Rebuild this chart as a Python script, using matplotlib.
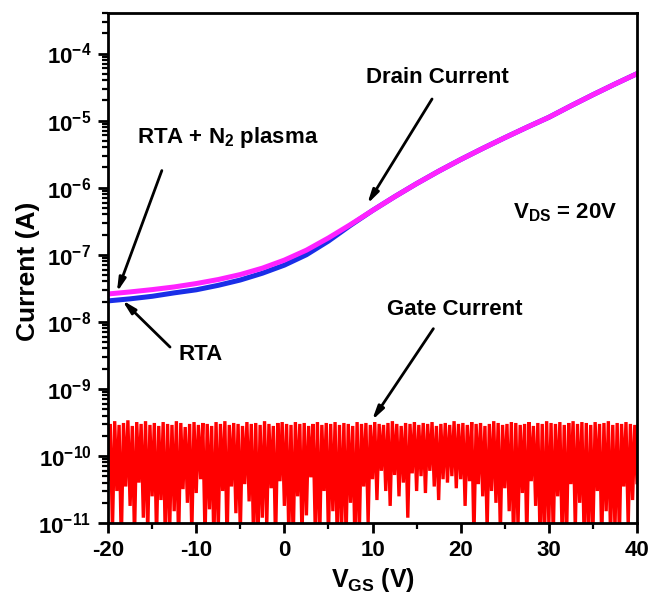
#!/usr/bin/env python3

import numpy as np
import matplotlib
matplotlib.use("Agg")
import matplotlib.pyplot as plt
from matplotlib.ticker import LogLocator, MultipleLocator, FixedLocator, NullFormatter

# drain current, every 2.5 V
vgs_drain = [-20, -17.5, -15, -12.5, -10, -7.5, -5, -2.5, 0, 2.5, 5, 7.5, 10,
             12.5, 15, 17.5, 20, 22.5, 25, 27.5, 30, 32.5, 35, 37.5, 40]
id_rta_n2 = [2.6e-8, 2.79e-8, 3.02e-8, 3.31e-8, 3.72e-8, 4.27e-8, 5.07e-8,
             6.31e-8, 8.32e-8, 1.17e-7, 1.78e-7, 2.82e-7, 4.57e-7, 7.33e-7,
             1.15e-6, 1.76e-6, 2.63e-6, 3.85e-6, 5.56e-6, 7.94e-6, 1.12e-5,
             1.66e-5, 2.43e-5, 3.51e-5, 5.01e-5]
id_rta = [2.05e-8, 2.2e-8, 2.4e-8, 2.7e-8, 3.0e-8, 3.5e-8, 4.2e-8, 5.3e-8,
          7.0e-8, 1.0e-7, 1.6e-7, 2.75e-7, 4.57e-7, 7.33e-7, 1.15e-6,
          1.76e-6, 2.63e-6, 3.85e-6, 5.56e-6, 7.94e-6, 1.12e-5, 1.66e-5,
          2.43e-5, 3.51e-5, 5.01e-5]

# gate current (units of 1e-10 A): dips at -20, -19.5, ... 40 and peaks in between
gate_dip = [
    0.45, 0.08, 0.30, 0.05, 0.35, 0.18, 0.06, 0.40, 0.12, 0.07,
    0.25, 0.06, 0.22, 0.05, 0.09, 0.15, 0.05, 0.32, 0.20, 0.07,
    0.28, 0.45, 0.06, 0.16, 0.05, 0.08, 0.30, 0.05, 0.35, 0.14,
    0.07, 0.38, 0.21, 0.06, 0.05, 0.12, 0.09, 0.33, 0.05, 0.42,
    0.18, 0.07, 0.05, 0.25, 0.06, 0.13, 0.48, 0.08, 0.05, 0.30,
    0.06, 0.15, 0.05, 0.09, 0.06, 0.20, 0.05, 0.07, 0.35, 0.10,
    0.45, 0.22, 0.60, 0.30, 0.18, 0.52, 0.25, 0.40, 0.12, 0.55,
    0.30, 0.50, 0.28, 0.60, 0.35, 0.22, 0.45, 0.40, 0.50, 0.33,
    0.45, 0.18, 0.42, 0.06, 0.38, 0.25, 0.08, 0.30, 0.20, 0.07,
    0.33, 0.15, 0.05, 0.09, 0.28, 0.06, 0.42, 0.18, 0.06, 0.05,
    0.10, 0.06, 0.25, 0.07, 0.05, 0.38, 0.08, 0.20, 0.06, 0.05,
    0.07, 0.30, 0.05, 0.15, 0.06, 0.08, 0.06, 0.35, 0.09, 0.22,
    0.40]
gate_peak = [
    3.0, 3.3, 2.9, 3.1, 3.4, 2.8, 3.2, 3.0, 3.3, 2.9,
    3.1, 2.8, 3.2, 3.0, 2.9, 3.3, 3.1, 2.7, 3.0, 3.2,
    2.9, 3.1, 3.0, 2.8, 3.2, 3.0, 3.3, 2.9, 3.1, 3.0,
    2.8, 3.2, 3.0, 3.1, 2.9, 3.3, 3.0, 2.8, 3.1, 3.2,
    3.0, 2.9, 3.2, 3.0, 3.1, 2.8, 3.0, 3.2, 2.9, 3.1,
    3.0, 3.2, 2.9, 3.1, 3.0, 2.8, 3.2, 3.0, 3.1, 2.9,
    3.2, 3.0, 2.9, 3.1, 3.3, 3.0, 2.8, 3.1, 3.0, 3.2,
    2.9, 3.1, 3.0, 3.2, 2.8, 3.0, 3.1, 2.9, 3.3, 3.0,
    3.1, 2.9, 3.2, 3.0, 3.1, 2.8, 3.0, 3.3, 3.1, 2.9,
    3.0, 3.2, 3.1, 2.9, 3.0, 3.2, 2.8, 3.1, 3.0, 3.3,
    3.1, 3.0, 3.2, 2.9, 3.1, 3.3, 3.0, 3.2, 3.1, 2.9,
    3.2, 3.0, 3.1, 3.3, 2.9, 3.1, 3.0, 3.2, 3.0, 2.9]

xticks = [-20, -10, 0, 10, 20, 30, 40]
ytick_exps = [-11, -10, -9, -8, -7, -6, -5, -4]


def _gate_series():
    v = np.arange(len(gate_dip) + len(gate_peak)) * 0.25 - 20
    i = np.empty(len(v))
    i[0::2] = np.array(gate_dip) * 1e-10
    i[1::2] = np.array(gate_peak) * 1e-10
    return v, i


def _main():
    plt.rcParams["font.family"] = ["Liberation Sans", "DejaVu Sans"]
    plt.rcParams["font.weight"] = "bold"
    plt.rcParams["mathtext.fontset"] = "custom"
    plt.rcParams["mathtext.rm"] = "Liberation Sans:bold"
    plt.rcParams["mathtext.bf"] = "Liberation Sans:bold"
    plt.rcParams["mathtext.default"] = "rm"

    fig = plt.figure(figsize=(6.51, 5.98), dpi=100)
    ax = fig.add_axes([0.166, 0.1254, 0.8125, 0.8526])

    vg, ig = _gate_series()
    ax.plot(vg, ig, color="#ff0000", lw=2.4, solid_joinstyle="miter")

    ax.plot(vgs_drain, id_rta, color="#1a2ee8", lw=3.6)
    ax.plot(vgs_drain, id_rta_n2, color="#ff22ff", lw=3.6)

    ax.set_yscale("log")
    ax.set_xlim(-20, 40)
    ax.set_ylim(1e-11, 4e-4)

    ax.xaxis.set_major_locator(FixedLocator(xticks))
    ax.xaxis.set_minor_locator(MultipleLocator(5))
    ax.yaxis.set_major_locator(FixedLocator([10.0 ** e for e in ytick_exps]))
    ax.set_yticklabels([r"$10^{%d}$" % e for e in ytick_exps])
    ax.yaxis.set_minor_locator(LogLocator(base=10, subs=np.arange(2, 10), numticks=20))
    ax.yaxis.set_minor_formatter(NullFormatter())
    ax.set_xticklabels([str(t) for t in xticks])

    ax.tick_params(axis="both", which="major", direction="out", length=7, width=2,
                   labelsize=16, pad=5)
    ax.tick_params(axis="both", which="minor", direction="out", length=4, width=1.6)
    for s in ax.spines.values():
        s.set_linewidth(2)

    ax.set_xlabel(r"V$_{GS}$ (V)", fontsize=18, fontweight="bold", labelpad=4)
    ax.set_ylabel("Current (A)", fontsize=19, fontweight="bold")
    ax.yaxis.set_label_coords(-0.1285, 0.494)

    arrow = dict(arrowstyle="-|>,head_width=0.2,head_length=0.8", color="black",
                 lw=2, shrinkA=0, shrinkB=0)
    fs = 16

    ax.text(17.3, 4.4e-5, "Drain Current", ha="center", va="center", fontsize=fs)
    ax.annotate("", xy=(9.4, 5.7e-7), xytext=(16.75, 2.1e-5), arrowprops=arrow)

    ax.text(-6.4, 5.6e-6, r"RTA + N$_2$ plasma", ha="center", va="center", fontsize=fs)
    ax.annotate("", xy=(-19.0, 2.75e-8), xytext=(-13.9, 1.8e-6), arrowprops=arrow)

    ax.text(-9.45, 3.2e-9, "RTA", ha="center", va="center", fontsize=fs)
    ax.annotate("", xy=(-18.4, 2.1e-8), xytext=(-12.97, 4.2e-9), arrowprops=arrow)

    ax.text(19.35, 1.5e-8, "Gate Current", ha="center", va="center", fontsize=fs)
    ax.annotate("", xy=(9.94, 3.4e-10), xytext=(16.9, 7.9e-9), arrowprops=arrow)

    ax.text(31.8, 4.3e-7, r"V$_{DS}$ = 20V", ha="center", va="center", fontsize=fs)

    fig.savefig("out.png", dpi=100)


if __name__ == "__main__":
    _main()
